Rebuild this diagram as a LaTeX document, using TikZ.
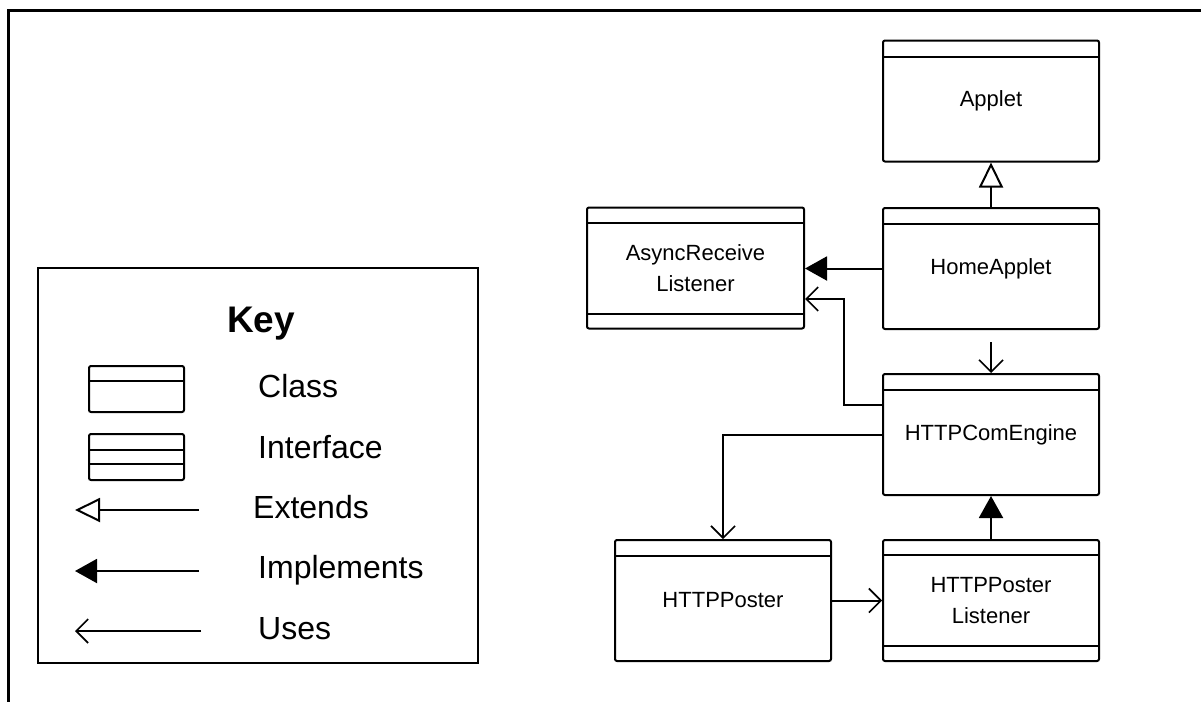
\documentclass[tikz,border=0pt]{standalone}
\usepackage{fontspec}
\setmainfont{Liberation Sans}
\usetikzlibrary{arrows.meta}

\begin{document}
\begin{tikzpicture}[
    x=1pt, y=-1pt,
    basebox/.style={draw, line width=2pt, rounded corners=2pt, minimum width=216pt,
        minimum height=121pt, inner sep=0pt, align=center, font=\fontsize{22}{31}\selectfont},
    classbox/.style={basebox, path picture={
        \draw[line width=2pt] ([yshift=-#1]path picture bounding box.north west)
            -- ([yshift=-#1]path picture bounding box.north east);}},
    classbox/.default=16pt,
    ifacebox/.style={basebox, path picture={
        \draw[line width=2pt] ([yshift=-#1]path picture bounding box.north west)
            -- ([yshift=-#1]path picture bounding box.north east);
        \draw[line width=2pt] ([yshift=#1]path picture bounding box.south west)
            -- ([yshift=#1]path picture bounding box.south east);}},
    ifacebox/.default=15pt,
    keylabel/.style={anchor=base west, inner sep=0pt, font=\fontsize{32}{36}\selectfont},
    extends/.style={line width=2pt, -{Triangle[open, length=25pt, width=24pt, line width=2pt]}},
    implements/.style={line width=2pt, -{Triangle[length=22pt, width=24pt]}},
    uses/.style={line width=2pt, -{Straight Barb[length=12pt, width=24pt, line width=1.6pt]}}
]
    \useasboundingbox (0,0) rectangle (1201,702);

    % Outer frame (top and left edges only)
    \draw[line width=3pt] (1201,10) -- (8,10) -- (8,702);

    % Key
    \node[draw, line width=2pt, minimum width=440pt, minimum height=395pt, inner sep=0pt] (keybox) at (258,465) {};
    \node[anchor=base, inner sep=0pt, font=\bfseries\fontsize{37}{40}\selectfont] (keytitle) at (261,332) {Key};

    \node[classbox=15pt, minimum width=95pt, minimum height=46pt] (iconclass) at (136.5,389) {};
    \node[ifacebox=16pt, minimum width=95pt, minimum height=46pt] (iconiface) at (136.5,457) {};
    \coordinate (extS) at (199,510);
    \coordinate (extE) at (75,510);
    \coordinate (impS) at (199,571);
    \coordinate (impE) at (75,571);
    \coordinate (useS) at (201,631);
    \coordinate (useE) at (75,631);
    \draw[extends] (extS) -- (extE);
    \draw[implements] (impS) -- (impE);
    \draw[uses] (useS) -- (useE);

    \node[keylabel] (lclass) at (258,397) {Class};
    \node[keylabel] (liface) at (258,458) {Interface};
    \node[keylabel] (lext) at (253,518) {Extends};
    \node[keylabel] (limp) at (258,578) {Implements};
    \node[keylabel] (luse) at (258,639) {Uses};

    % Classes and interfaces
    \node[classbox] (applet) at (991,101) {Applet};
    \node[classbox] (homeapp) at (991,268.5) {HomeApplet};
    \node[ifacebox, minimum width=217pt] (async) at (695.5,268) {AsyncReceive\\Listener};
    \node[classbox] (engine) at (991,434.5) {HTTPComEngine};
    \node[classbox] (poster) at (723,600.5) {HTTPPoster};
    \node[ifacebox] (posterl) at (991,600.5) {HTTPPoster\\Listener};

    % Relations
    \draw[extends] (homeapp.north) -- (applet.south);
    \draw[implements] (homeapp.west) -- (async.east |- homeapp.west);
    \draw[uses, shorten <=12pt] (homeapp.south) -- (engine.north);
    \coordinate (bendA) at (844,299);
    \draw[uses] ([yshift=30pt]engine.west) -| (bendA) -- (async.east |- bendA);
    \draw[uses] (engine.west) -| (poster.north);
    \draw[implements] (posterl.north) -- (engine.south);
    \draw[uses] (poster.east) -- (posterl.west);
\end{tikzpicture}
\end{document}
